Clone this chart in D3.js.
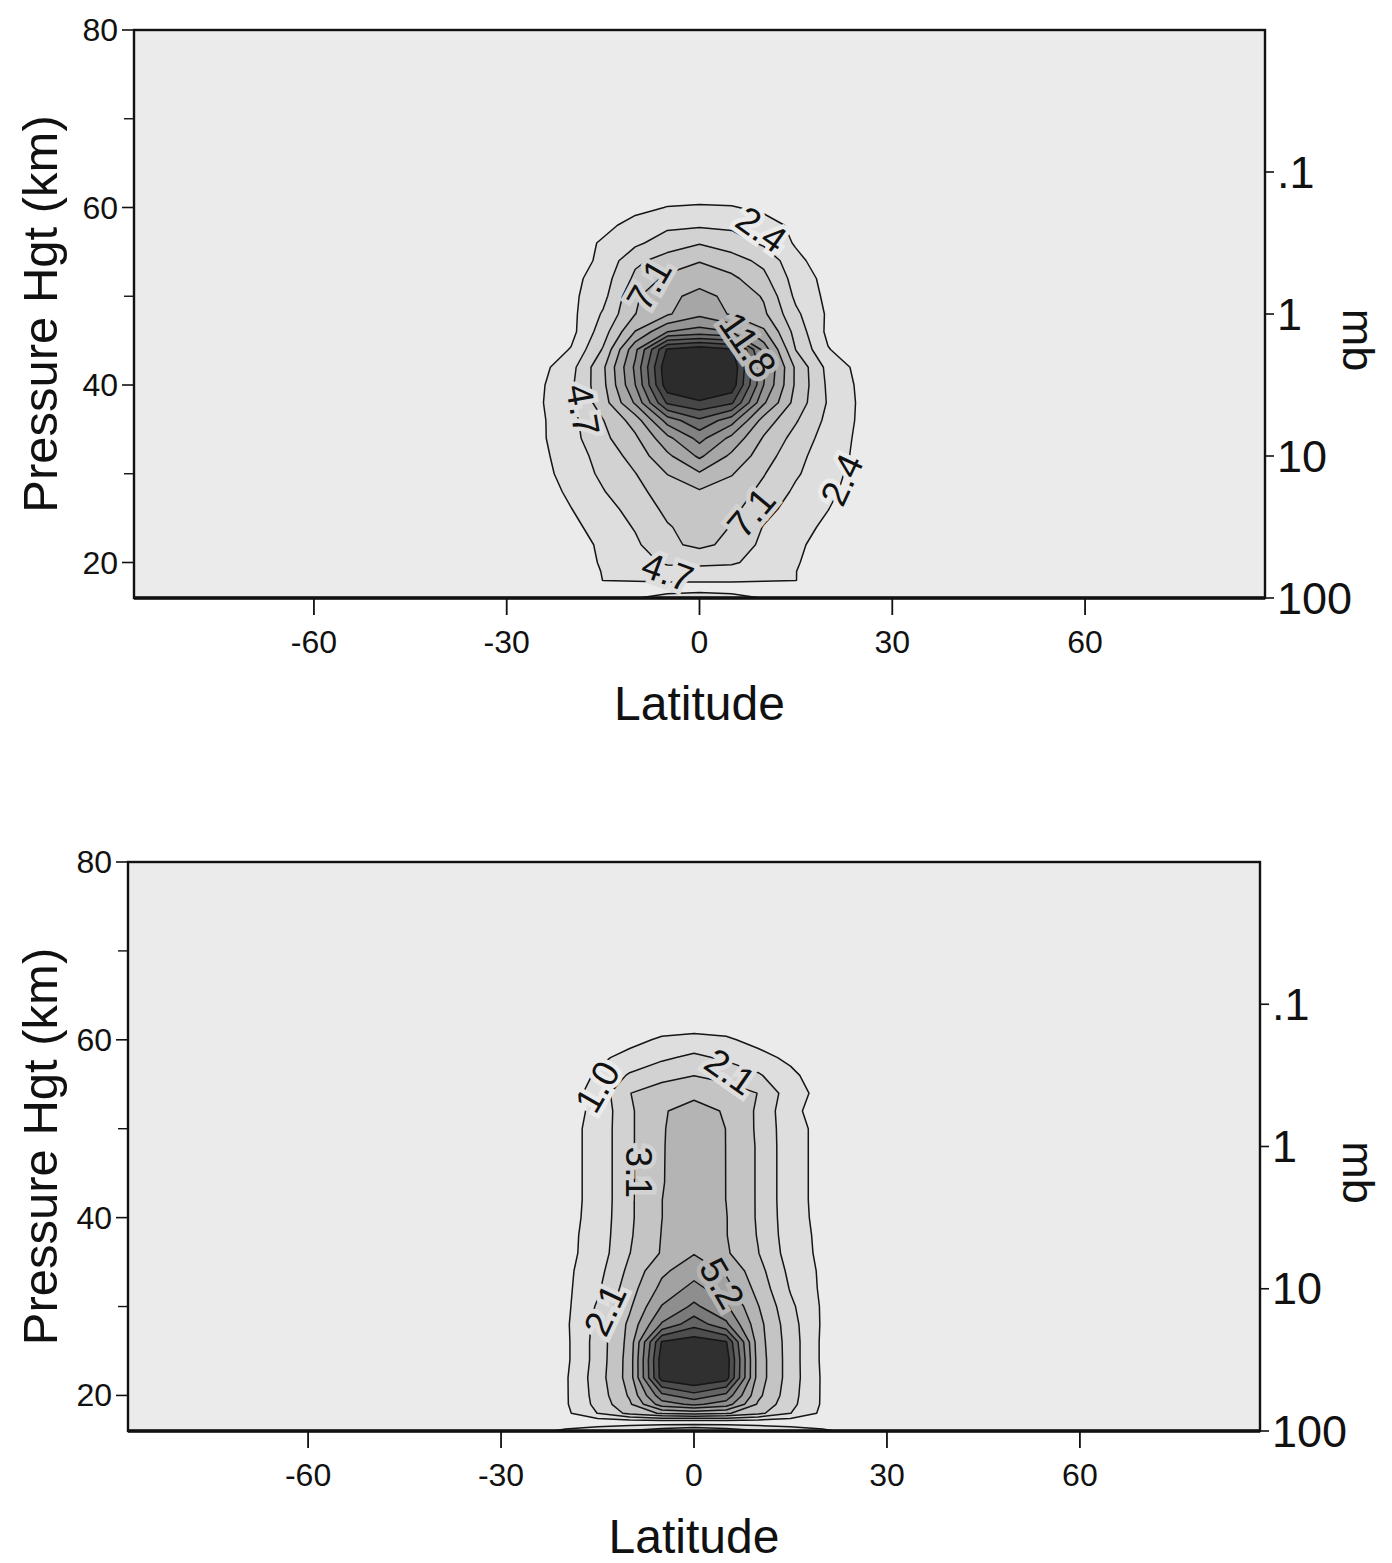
<!DOCTYPE html>
<html><head><meta charset="utf-8">
<script src="https://cdn.jsdelivr.net/npm/d3@7"></script>
<style>body{margin:0;background:#fff}svg{display:block}text{font-family:"Liberation Sans",Arial,Helvetica,sans-serif;fill:#111}</style>
</head><body><svg id="chart" width="1392" height="1563"></svg>
<script>
// ---------------- data ----------------
const lats = [-35,-30,-25,-20,-15,-10,-5,0,5,10,15,20,25,30,35];
const latTicks = [-60,-30,0,30,60];
const heightTicks = [20,40,60,80];
const minorHeightTicks = [30,50,70];
const pressureTicks = [100,10,1,0.1];
const pressureTickLabels = ["100","10","1",".1"];

const topHeights = [16,17,18,19,20,22,24,26,28,30,32,34,36,38,40,42,44,46,48,50,52,54,56,58,60,62,64,66];
const topGrid = [
 [0,0,0,0,0.5,2.2,3.6,4.5,3.6,2.2,0.5,0,0,0,0],
 [0,0,0,0,0.3,0.6,1.0,1.0,1.0,0.6,0.3,0,0,0,0],
 [0,0,0,0.4,2.4,2.6,2.7,2.7,2.7,2.6,2.4,0.4,0,0,0],
 [0,0,0.1,0.6,2.5,3.6,4.0,4.0,3.9,3.4,2.4,0.6,0.1,0,0],
 [0,0,0.2,0.8,2.7,4.0,5.0,5.2,5.0,3.9,2.6,0.8,0.2,0,0],
 [0,0,0.5,1.3,2.8,4.3,6.6,7.6,6.5,4.1,2.8,1.4,0.5,0,0],
 [0,0.1,0.7,1.8,3.3,4.9,6.9,8.0,7.0,4.6,3.2,1.9,0.7,0.1,0],
 [0,0.1,0.9,2.3,3.8,5.6,7.6,8.6,7.7,5.5,3.7,2.4,0.9,0.1,0],
 [0,0.2,1.2,2.8,4.6,6.4,8.2,9.2,8.3,6.5,4.3,2.9,1.2,0.2,0],
 [0,0.3,1.5,3.3,5.2,7.0,9.5,11.5,9.6,7.2,5.0,3.2,1.5,0.3,0],
 [0,0.4,1.7,3.6,5.6,8.0,11.3,14.6,11.3,8.2,5.4,3.5,1.8,0.4,0],
 [0,0.5,1.9,3.9,6.5,9.0,13.5,17.3,13.5,9.2,6.2,3.7,1.9,0.5,0],
 [0,0.5,1.9,4.0,7.0,10.5,17.5,20.8,17.5,10.8,7.3,4.1,2.0,0.5,0],
 [0,0.5,2.0,4.5,8.3,14.5,24.0,25.5,24.0,14.5,8.5,4.5,2.0,0.5,0],
 [0,0.4,1.9,4.3,8.8,16.5,27.5,29.0,27.5,16.5,9.0,4.3,1.9,0.4,0],
 [0,0.3,1.5,3.9,9.0,17.0,28.0,29.5,28.0,17.0,9.0,4.0,1.6,0.3,0],
 [0,0.1,0.7,2.5,7.3,15.9,26.3,27.5,26.3,15.5,7.0,2.5,0.7,0.1,0],
 [0,0,0.4,1.6,6.0,11.9,16.5,17.5,16.5,12.2,6.2,1.8,0.5,0,0],
 [0,0,0.4,1.7,5.0,9.4,11.5,13.6,11.5,9.9,5.2,2.0,0.5,0,0],
 [0,0,0.4,1.8,4.0,9.1,11.3,12.4,11.3,9.2,4.2,1.8,0.4,0,0],
 [0,0,0.4,1.6,3.6,7.6,10.0,11.0,10.0,7.7,3.7,1.6,0.4,0,0],
 [0,0,0.2,1.2,2.9,6.6,8.0,9.3,8.0,6.5,3.0,1.0,0.2,0,0],
 [0,0,0.2,1.0,2.7,4.2,6.0,6.9,6.0,4.3,2.1,0.8,0.1,0,0],
 [0,0,0.1,0.6,1.6,3.3,4.2,4.4,4.2,3.2,1.9,0.6,0.1,0,0],
 [0,0,0,0.2,0.8,1.6,2.45,2.6,2.5,1.9,1.1,0.3,0,0,0],
 [0,0,0,0,0.2,0.6,1.0,1.2,1.1,0.7,0.3,0,0,0,0],
 [0,0,0,0,0,0,0.2,0.3,0.2,0,0,0,0,0,0],
 [0,0,0,0,0,0,0,0,0,0,0,0,0,0,0]
];
const topLevels = [2.36,4.72,7.08,9.44,11.8,14.16,16.52,18.88,21.24,23.6,25.96];
const topLabels = [
 {lat:9.6, z:57.5, angle:35, level:0},
 {lat:-7.8, z:51.3, angle:-60, level:2},
 {lat:7.5, z:44.5, angle:55, level:4},
 {lat:-18.2, z:37.2, angle:80, level:1},
 {lat:22.2, z:29.3, angle:-65, level:0},
 {lat:8.1, z:25.6, angle:-50, level:2},
 {lat:-5, z:18.9, angle:20, level:1}
];

const bottomHeights = [16,17,18,19,20,22,24,26,28,30,32,34,36,38,40,42,44,46,48,50,52,54,56,58,60,62,64];
const bottomGrid = [
 [0,0,0.6,1.3,1.7,2.2,2.8,3.2,2.8,2.2,1.7,1.3,0.6,0,0],
 [0,0,0,0.2,0.3,0.3,0.3,0.3,0.3,0.3,0.3,0.2,0,0,0],
 [0,0,0.1,0.8,2.1,3.4,4.3,4.5,4.3,3.4,2.1,0.8,0.1,0,0],
 [0,0,0.1,0.9,2.4,4.0,6.8,7.5,6.8,4.0,2.4,0.9,0.1,0,0],
 [0,0,0.1,0.9,2.5,4.3,8.0,9.0,8.0,4.4,2.5,0.9,0.1,0,0],
 [0,0,0.1,0.9,2.6,4.6,10.9,11.5,10.9,4.7,2.6,0.9,0.1,0,0],
 [0,0,0.1,0.8,2.5,4.6,11.0,11.6,11.0,4.7,2.6,0.85,0.1,0,0],
 [0,0,0.1,0.8,2.5,4.5,10.5,11.0,10.5,4.6,2.6,0.85,0.1,0,0],
 [0,0,0.1,0.85,2.4,4.4,7.4,9.0,7.5,4.5,2.5,0.9,0.1,0,0],
 [0,0,0.1,0.8,2.2,4.0,6.3,7.5,6.4,4.2,2.3,0.9,0.1,0,0],
 [0,0,0.1,0.8,1.9,3.7,5.5,6.6,5.6,3.8,2.0,0.85,0.1,0,0],
 [0,0,0.1,0.8,1.7,3.4,5.0,5.8,5.05,3.5,1.8,0.85,0.1,0,0],
 [0,0,0.1,0.75,1.5,3.1,4.25,5.15,4.3,3.15,1.6,0.8,0.1,0,0],
 [0,0,0.1,0.75,1.45,3.0,4.2,5.0,4.2,3.05,1.5,0.8,0.1,0,0],
 [0,0,0.1,0.7,1.4,2.95,4.15,4.9,4.2,3.0,1.45,0.75,0.1,0,0],
 [0,0,0.1,0.7,1.35,2.95,4.15,4.85,4.15,3.0,1.4,0.75,0.1,0,0],
 [0,0,0.1,0.7,1.35,2.95,4.1,4.8,4.15,3.0,1.4,0.75,0.1,0,0],
 [0,0,0.1,0.7,1.35,2.95,4.1,4.75,4.15,3.0,1.4,0.75,0.1,0,0],
 [0,0,0.1,0.7,1.35,2.95,4.1,4.7,4.15,3.0,1.4,0.75,0.1,0,0],
 [0,0,0.1,0.7,1.35,2.95,4.1,4.6,4.15,2.95,1.4,0.75,0.1,0,0],
 [0,0,0,0.6,1.3,2.95,4.1,4.4,4.1,2.95,1.3,0.6,0,0,0],
 [0,0,0,0.6,1.4,3.1,3.6,4.0,3.6,3.1,1.5,0.7,0,0,0],
 [0,0,0,0.3,1.2,2.2,2.8,3.1,2.8,2.2,1.3,0.4,0,0,0],
 [0,0,0,0.1,0.8,1.4,1.9,2.3,1.9,1.4,0.8,0.1,0,0,0],
 [0,0,0,0,0.2,0.7,1.2,1.4,1.2,0.7,0.2,0,0,0,0],
 [0,0,0,0,0,0.2,0.4,0.4,0.4,0.2,0,0,0,0,0],
 [0,0,0,0,0,0,0,0,0,0,0,0,0,0,0]
];
const bottomLevels = [1.04,2.08,3.12,4.16,5.2,6.24,7.28,8.32,9.36,10.4];
const bottomLabels = [
 {lat:-15, z:54.7, angle:-60, level:0},
 {lat:5.6, z:56.4, angle:35, level:1},
 {lat:-8.7, z:45.1, angle:90, level:2},
 {lat:4.3, z:32.6, angle:60, level:4},
 {lat:-13.8, z:29.6, angle:-65, level:1}
];

// ---------------- styles ----------------
const BG = "#ebebeb";
const topFills = ["#dedede","#d2d2d2","#c6c6c6","#b8b8b8","#a6a6a6","#949494","#828282","#6e6e6e","#5a5a5a","#464646","#2c2c2c"];
const bottomFills = ["#dedede","#d2d2d2","#c4c4c4","#b4b4b4","#a2a2a2","#8e8e8e","#7a7a7a","#646464","#4e4e4e","#303030"];

const svg = d3.select("#chart");

function interp(arr, c) {
  const f = Math.max(0, Math.min(arr.length - 1, c - 0.5));
  const i = Math.min(Math.floor(f), arr.length - 2);
  const t = f - i;
  return arr[i] + t * (arr[i + 1] - arr[i]);
}

function drawPanel(o) {
  const x = d3.scaleLinear().domain([-88, 88]).range([o.left, o.right]);
  const y = d3.scaleLinear().domain([16, 80]).range([o.bottom, o.top]);
  const p = d3.scaleLog().domain([100, 0.01]).range([o.bottom, o.top]);
  const nx = lats.length, ny = o.heights.length;
  const values = o.grid.flat();
  const contours = d3.contours().size([nx, ny]).thresholds(o.levels)(values);
  const proj = d3.geoTransform({point(px, py) { this.stream.point(x(interp(lats, px)), y(interp(o.heights, py))); }});
  const path = d3.geoPath(proj);
  const id = "clip" + o.name;
  svg.append("clipPath").attr("id", id).append("rect")
    .attr("x", o.left).attr("y", o.top).attr("width", o.right - o.left).attr("height", o.bottom - o.top);
  const g = svg.append("g").attr("clip-path", `url(#${id})`);
  g.append("rect").attr("x", o.left).attr("y", o.top).attr("width", o.right - o.left).attr("height", o.bottom - o.top).attr("fill", BG);
  contours.forEach((c, i) => g.append("path").attr("d", path(c)).attr("fill", o.fills[i]));
  contours.forEach(c => g.append("path").attr("d", path(c)).attr("fill", "none").attr("stroke", "#151515").attr("stroke-width", 1.5).attr("stroke-linejoin", "round"));

  // contour labels
  o.labels.forEach(l => {
    const halo = l.level === 0 ? BG : o.fills[l.level - 1];
    g.append("text")
      .attr("transform", `translate(${x(l.lat)},${y(l.z)}) rotate(${l.angle})`)
      .attr("text-anchor", "middle").attr("dominant-baseline", "central")
      .attr("font-size", 37)
      .attr("stroke", halo).attr("stroke-width", 9).attr("paint-order", "stroke")
      .text(o.levels[l.level].toFixed(1));
  });

  // frame
  svg.append("rect").attr("x", o.left).attr("y", o.top).attr("width", o.right - o.left).attr("height", o.bottom - o.top)
    .attr("fill", "none").attr("stroke", "#111").attr("stroke-width", 2.4);
  svg.append("line").attr("x1", o.left).attr("x2", o.right).attr("y1", o.bottom).attr("y2", o.bottom).attr("stroke", "#111").attr("stroke-width", 3.4);

  // left axis
  heightTicks.forEach(v => {
    svg.append("line").attr("x1", o.left - 12).attr("x2", o.left).attr("y1", y(v)).attr("y2", y(v)).attr("stroke", "#111").attr("stroke-width", 1.6);
    svg.append("text").attr("x", o.left - 16).attr("y", y(v)).attr("text-anchor", "end").attr("dominant-baseline", "central").attr("font-size", 32).text(v);
  });
  minorHeightTicks.forEach(v => {
    svg.append("line").attr("x1", o.left - 10).attr("x2", o.left).attr("y1", y(v)).attr("y2", y(v)).attr("stroke", "#111").attr("stroke-width", 1.4);
  });
  // bottom axis
  latTicks.forEach(v => {
    svg.append("line").attr("x1", x(v)).attr("x2", x(v)).attr("y1", o.bottom).attr("y2", o.bottom + 17).attr("stroke", "#111").attr("stroke-width", 1.8);
    svg.append("text").attr("x", x(v)).attr("y", o.bottom + 44).attr("text-anchor", "middle").attr("dominant-baseline", "central").attr("font-size", 32).text(v);
  });
  // right axis (pressure)
  pressureTicks.forEach((v, i) => {
    svg.append("line").attr("x1", o.right).attr("x2", o.right + 9).attr("y1", p(v)).attr("y2", p(v)).attr("stroke", "#111").attr("stroke-width", 1.6);
    svg.append("text").attr("x", o.right + 12).attr("y", p(v)).attr("text-anchor", "start").attr("dominant-baseline", "central").attr("font-size", 45).text(pressureTickLabels[i]);
  });
  // titles
  const midY = (o.top + o.bottom) / 2;
  svg.append("text").attr("transform", `translate(57,${midY}) rotate(-90)`).attr("text-anchor", "middle").attr("font-size", 49).text("Pressure Hgt (km)");
  svg.append("text").attr("x", x(0)).attr("y", o.bottom + 122).attr("text-anchor", "middle").attr("font-size", 48).text("Latitude");
  svg.append("text").attr("transform", `translate(1343,${midY + 26}) rotate(90)`).attr("text-anchor", "middle").attr("font-size", 45).text("mb");
}

drawPanel({name: "top", left: 134, right: 1265, top: 30, bottom: 598, heights: topHeights, grid: topGrid, levels: topLevels, fills: topFills, labels: topLabels});
drawPanel({name: "bottom", left: 128, right: 1260, top: 862, bottom: 1431, heights: bottomHeights, grid: bottomGrid, levels: bottomLevels, fills: bottomFills, labels: bottomLabels});
</script></body></html>
